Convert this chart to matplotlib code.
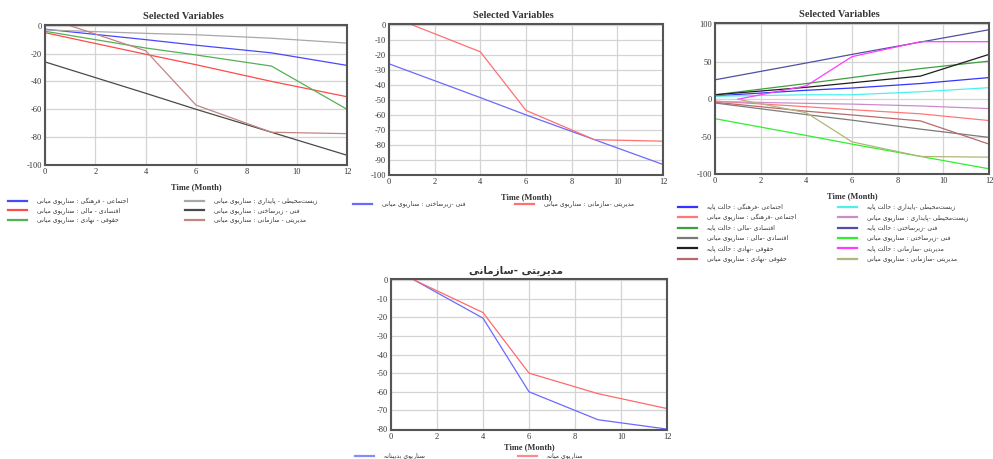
import unicodedata
import matplotlib
matplotlib.use("Agg")
import matplotlib.pyplot as plt
from matplotlib.lines import Line2D

plt.rcParams["axes.unicode_minus"] = False

W, H = 993, 459

# time points (month)
t = [0, 4, 6, 9, 12]
t_mgmt = [1, 4, 6, 9, 12]

# middle scenario (سناریوی میانی)
soc_mid = [-2.5, -10, -14, -19.5, -28.5]
eco_mid = [-5, -20.5, -28, -40, -51]
leg_mid = [-4, -16, -21, -29, -60]
env_mid = [-3, -5.5, -6.5, -9, -12.5]
tech_mid = [-26, -48.5, -60, -76.5, -93]
mgmt_mid = [0, -18, -57, -76.5, -77.5]

# base case (حالت پایه)
soc_base = [4.5, 12, 15, 21, 29]
eco_base = [6, 21, 29, 41, 51]
leg_base = [6, 16, 22, 31, 60]
env_base = [4, 6, 6, 10, 15.5]
tech_base = [26, 48.5, 60, 76.5, 93]
mgmt_base = [0, 18, 57, 77, 77]

# bottom chart
p4_t = [1, 4, 6, 9, 12]
p4_blue = [0, -20.5, -60, -75, -80]
p4_red = [0, -17.5, -50, -61, -69]

names = ["اجتماعی", "فرهنگی", "اقتصادی", "مالی", "حقوقی", "نهادی",
         "زیست‌محیطی", "پایداری", "فنی", "زیرساختی", "مدیریتی", "سازمانی"]
MID = "سناریوی میانی"
BASE = "حالت پایه"

RIGHT_ONLY = set("اآأإدذرزژوؤة")


def is_ar(c):
    return "\u0600" <= c <= "\u06ff"


def fa(text):
    # crude arabic shaping + right-to-left, matplotlib does neither
    out = []
    for i, c in enumerate(text):
        if c == "\u200c":
            continue
        if not is_ar(c):
            out.append(c)
            continue
        prev = text[i - 1] if i > 0 else ""
        nxt = text[i + 1] if i + 1 < len(text) else ""
        jp = bool(prev) and is_ar(prev) and prev not in RIGHT_ONLY
        jn = bool(nxt) and is_ar(nxt) and c not in RIGHT_ONLY
        form = {(True, True): ["MEDIAL", "FINAL"], (True, False): ["FINAL"],
                (False, True): ["INITIAL", "ISOLATED"], (False, False): ["ISOLATED"]}[(jp, jn)]
        g = c
        for f in form:
            try:
                g = unicodedata.lookup(unicodedata.name(c) + " " + f + " FORM")
                break
            except KeyError:
                pass
        out.append(g)
    return "".join(reversed(out))


SERIF = ["Liberation Serif", "DejaVu Serif"]
FA = ["DejaVu Sans"]

fig = plt.figure(figsize=(W / 100, H / 100), dpi=100)
fig.patch.set_facecolor("white")


def make_ax(l, top, r, b, yticks, ylim, title, title_font=SERIF, labelpad=5):
    ax = fig.add_axes([l / W, 1 - b / H, (r - l) / W, (b - top) / H])
    ax.set_xlim(0, 12)
    ax.set_ylim(*ylim)
    ax.set_xticks(range(0, 13, 2))
    ax.set_yticks(yticks)
    ax.grid(True, color="#d4d4d4", lw=0.9)
    ax.set_axisbelow(True)
    ax.tick_params(length=0, pad=2, labelsize=6, labelcolor="#333333")
    for lab in ax.get_xticklabels() + ax.get_yticklabels():
        lab.set_family(SERIF)
    for s in ax.spines.values():
        s.set_color("#555555")
        s.set_linewidth(1.5)
    # titles sit a little left of the axes centre
    ax.set_title(title, family=title_font, fontsize=7.5, fontweight="bold",
                 color="#333333", pad=4, x=0.5 - 13 / (r - l))
    ax.set_xlabel("Time (Month)", family=SERIF, fontsize=6, fontweight="bold",
                  color="#333333", labelpad=labelpad)
    return ax


def legend(x0, y0, dx, dy, nrows, items):
    for i, (lab, col) in enumerate(items):
        c, r = divmod(i, nrows)
        x = x0 + c * dx
        y = y0 + r * dy
        fig.add_artist(Line2D([x / W, (x + 19) / W], [1 - y / H, 1 - y / H],
                              transform=fig.transFigure, color=col, lw=1.6))
        fig.text((x + 29) / W, 1 - y / H, fa(lab), family=FA, fontsize=4.4,
                 color="#333333", ha="left", va="center")


# panel 1
ax1 = make_ax(45, 25, 347, 165, range(-100, 1, 20), (-100, 0.5), "Selected Variables")
p1 = [
    (t, soc_mid, "#4848ff", names[0] + " - " + names[1] + " : " + MID),
    (t, eco_mid, "#ff4a4a", names[2] + " - " + names[3] + " : " + MID),
    (t, leg_mid, "#55b055", names[4] + " - " + names[5] + " : " + MID),
    (t, env_mid, "#a8a8a8", names[6] + " - " + names[7] + " : " + MID),
    (t, tech_mid, "#4a4a4a", names[8] + " - " + names[9] + " : " + MID),
    (t_mgmt, mgmt_mid, "#c48484", names[10] + " - " + names[11] + " : " + MID),
]
for x, y, c, lab in p1:
    ax1.plot(x, y, color=c, lw=0.9)
legend(8, 201, 177, 9.3, 3, [(lab, c) for _, _, c, lab in p1])

# panel 2
ax2 = make_ax(389, 24, 663, 175, range(-100, 1, 10), (-100, 0.5), "Selected Variables")
p2 = [
    (t, tech_mid, "#6a6aff", names[8] + " -" + names[9] + " : " + MID),
    (t_mgmt, mgmt_mid, "#ff7070", names[10] + " -" + names[11] + " : " + MID),
]
for x, y, c, lab in p2:
    ax2.plot(x, y, color=c, lw=0.9)
legend(353, 204, 162, 10, 1, [(lab, c) for _, _, c, lab in p2])

# panel 3
ax3 = make_ax(715, 23, 989, 174, range(-100, 101, 50), (-100, 102), "Selected Variables")
p3 = [
    (t, soc_base, "#3434ff", names[0] + " -" + names[1] + " : " + BASE),
    (t, soc_mid, "#ff7878", names[0] + " -" + names[1] + " : " + MID),
    (t, eco_base, "#3f9f3f", names[2] + " -" + names[3] + " : " + BASE),
    (t, eco_mid, "#7a7a7a", names[2] + " -" + names[3] + " : " + MID),
    (t, leg_base, "#1e1e1e", names[4] + " -" + names[5] + " : " + BASE),
    (t, leg_mid, "#b86a6a", names[4] + " -" + names[5] + " : " + MID),
    (t, env_base, "#4cf0f0", names[6] + " -" + names[7] + " : " + BASE),
    (t, env_mid, "#cc8ccc", names[6] + " -" + names[7] + " : " + MID),
    (t, tech_base, "#5050a0", names[8] + " -" + names[9] + " : " + BASE),
    (t, tech_mid, "#2ef02e", names[8] + " -" + names[9] + " : " + MID),
    (t_mgmt, mgmt_base, "#ff3cff", names[10] + " -" + names[11] + " : " + BASE),
    (t_mgmt, mgmt_mid, "#b4b47c", names[10] + " -" + names[11] + " : " + MID),
]
for x, y, c, lab in p3:
    ax3.plot(x, y, color=c, lw=0.9)
legend(678, 207, 160, 10.3, 6, [(lab, c) for _, _, c, lab in p3])

# panel 4
ax4 = make_ax(391, 279, 667, 430, range(-80, 1, 10), (-80.5, 0.5),
              fa(names[10] + " -" + names[11]), title_font=FA, labelpad=2)
ax4.plot(p4_t, p4_blue, color="#6a6aff", lw=0.9)
ax4.plot(p4_t, p4_red, color="#ff6a6a", lw=0.9)
legend(355, 455.5, 163, 10, 1, [("سناریوی بدبینانه", "#8a8aff"), ("سناریوی میانه", "#ff8a8a")])

fig.savefig("out.png", dpi=100)
